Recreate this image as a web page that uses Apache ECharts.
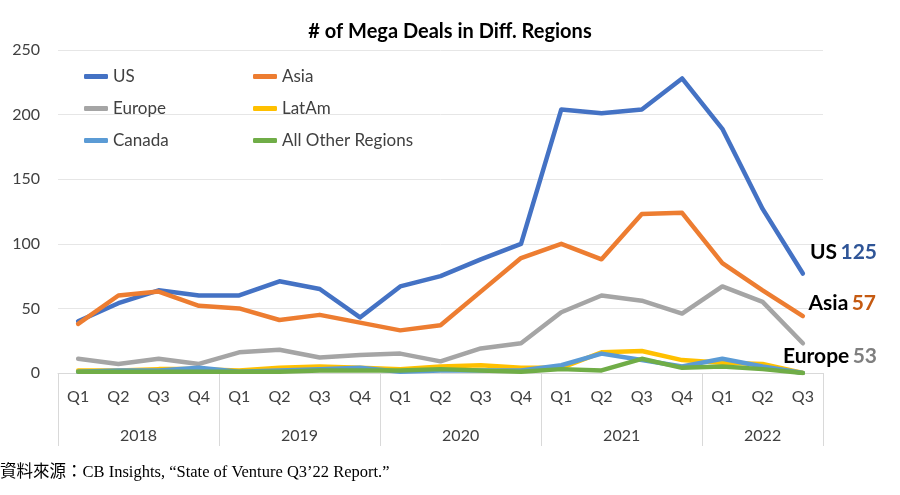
<!DOCTYPE html>
<html>
<head>
<meta charset="utf-8">
<script src="https://cdn.jsdelivr.net/npm/echarts@6/dist/echarts.min.js"></script>
<style>
  html, body { margin: 0; padding: 0; background: #fff; }
  #chart { width: 900px; height: 495px; }
</style>
</head>
<body>
<div id="chart"></div>
<script>
var quarters = ['Q1','Q2','Q3','Q4','Q1','Q2','Q3','Q4','Q1','Q2','Q3','Q4','Q1','Q2','Q3','Q4','Q1','Q2','Q3'];
var years = ['2018', '2019', '2020', '2021', '2022'];
var quartersPerYear = [4, 4, 4, 4, 3];

var usData     = [40, 54, 64, 60, 60, 71, 65, 43, 67, 75, 88, 100, 204, 201, 204, 228, 189, 127, 77];
var asiaData   = [38, 60, 63, 52, 50, 41, 45, 39, 33, 37, 63, 89, 100, 88, 123, 124, 85, 64, 44];
var europeData = [11, 7, 11, 7, 16, 18, 12, 14, 15, 9, 19, 23, 47, 60, 56, 46, 67, 55, 23];
var latamData  = [2, 2, 3, 3, 2, 4, 5, 4, 3, 5, 6, 4, 4, 16, 17, 10, 8, 7, 0];
var canadaData = [1, 2, 2, 4, 1, 2, 3, 4, 1, 2, 2, 2, 6, 15, 10, 5, 11, 5, 0];
var otherData  = [1, 1, 1, 1, 1, 1, 2, 2, 2, 3, 2, 1, 3, 2, 11, 4, 5, 3, 0];

// 右側註記
var endNotes = [
    { name: 'US', value: 125, color: '#2F5597' },
    { name: 'Asia', value: 57, color: '#C55A11' },
    { name: 'Europe', value: 53, color: '#7F7F7F' }
];

var chart = echarts.init(document.getElementById('chart'));

// 年份標籤位置（每年季度中點）
var yearLabelAt = {};
var acc = 0;
for (var i = 0; i < years.length; i++) {
    yearLabelAt[(acc + quartersPerYear[i] / 2).toFixed(1)] = years[i];
    acc += quartersPerYear[i];
}

function lineSeries(name, data, color) {
    return {
        name: name,
        type: 'line',
        data: data,
        showSymbol: false,
        symbol: 'none',
        lineStyle: { width: 4.5, color: color, cap: 'round', join: 'round' },
        itemStyle: { color: color },
        emphasis: { disabled: true }
    };
}

var font = 'Lato, "Open Sans", sans-serif';

var option = {
    backgroundColor: '#fff',
    animation: false,
    textStyle: { fontFamily: font },
    title: [
        {
            text: '# of Mega Deals in Diff. Regions',
            left: 'center',
            top: 17,
            textStyle: { fontSize: 20, fontWeight: 'bold', color: '#000', fontFamily: font }
        },
        {
            text: '資料來源：CB Insights, “State of Venture Q3’22 Report.”',
            left: 0,
            top: 464,
            padding: 0,
            textStyle: { fontSize: 16.5, fontWeight: 'normal', color: '#000',
                fontFamily: '"Liberation Serif", "Noto Sans CJK TC", serif' }
        }
    ],
    legend: [
        {
            data: ['US', 'Europe', 'Canada'],
            orient: 'vertical',
            left: 79,
            top: 63,
            itemWidth: 24,
            itemHeight: 5,
            itemGap: 15,
            icon: 'roundRect',
            textStyle: { fontSize: 17, color: '#404040', fontFamily: font }
        },
        {
            data: ['Asia', 'LatAm', 'All Other Regions'],
            orient: 'vertical',
            left: 248,
            top: 63,
            itemWidth: 24,
            itemHeight: 5,
            itemGap: 15,
            icon: 'roundRect',
            textStyle: { fontSize: 17, color: '#404040', fontFamily: font }
        }
    ],
    grid: { left: 58, right: 77, top: 50, bottom: 122, containLabel: false },
    xAxis: [
        {
            type: 'category',
            data: quarters,
            boundaryGap: true,
            axisLine: { show: true, lineStyle: { color: '#D9D9D9', width: 1 } },
            axisTick: {
                show: true,
                length: 73,
                interval: function (index) { return index % 4 === 0; },
                lineStyle: { color: '#D9D9D9', width: 1 }
            },
            axisLabel: { interval: 0, margin: 16, fontSize: 16, color: '#404040', fontFamily: font },
            splitLine: { show: false }
        },
        {
            type: 'value',
            position: 'bottom',
            offset: 47,
            min: 0,
            max: 19,
            interval: 0.5,
            axisLine: { show: false },
            axisTick: { show: false },
            splitLine: { show: false },
            axisLabel: {
                margin: 8,
                fontSize: 16,
                color: '#404040',
                fontFamily: font,
                showMinLabel: true,
                showMaxLabel: true,
                formatter: function (v) { return yearLabelAt[v.toFixed(1)] || ''; }
            }
        }
    ],
    yAxis: {
        type: 'value',
        min: 0,
        max: 250,
        interval: 50,
        axisLine: { show: false },
        axisTick: { show: false },
        axisLabel: { margin: 18, fontSize: 16, color: '#404040', fontFamily: font },
        splitLine: { lineStyle: { color: '#E6E6E6', width: 1 } }
    },
    series: [
        lineSeries('US', usData, '#4472C4'),
        lineSeries('Asia', asiaData, '#ED7D31'),
        lineSeries('Europe', europeData, '#A5A5A5'),
        lineSeries('LatAm', latamData, '#FFC000'),
        lineSeries('Canada', canadaData, '#5B9BD5'),
        lineSeries('All Other Regions', otherData, '#70AD47')
    ],
    graphic: endNotes.map(function (n, k) {
        var pos = [[877, 252], [876, 303], [877, 356]][k];
        return {
            type: 'text',
            right: 900 - pos[0],
            top: pos[1] - 10,
            z: 100,
            style: {
                text: '{a|' + n.name + '} {b|' + n.value + '}',
                rich: {
                    a: { fontSize: 21, fontWeight: 'bold', fill: '#000', fontFamily: font },
                    b: { fontSize: 21, fontWeight: 'bold', fill: n.color, fontFamily: font }
                }
            }
        };
    })
};

chart.setOption(option);
</script>
</body>
</html>
